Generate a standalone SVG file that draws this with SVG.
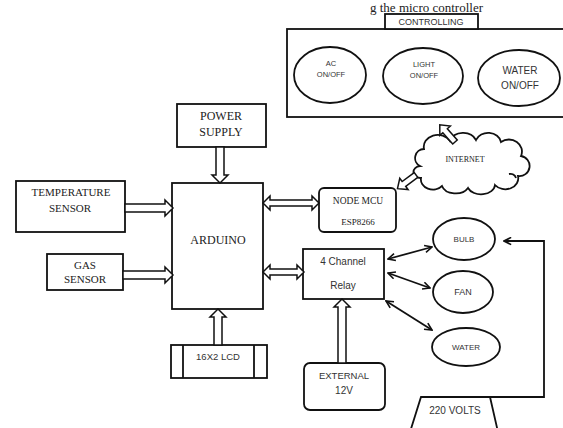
<svg xmlns="http://www.w3.org/2000/svg" width="563" height="428" viewBox="0 0 563 428">
<defs>
<style>
.b{fill:#fff;stroke:#111;stroke-width:1.8}
.ha{fill:#fff;stroke:#111;stroke-width:1.5;stroke-linejoin:miter}
.ln{fill:none;stroke:#111;stroke-width:1.8}
.se{font-family:"Liberation Serif","Times New Roman",serif;fill:#222;text-anchor:middle}
.sa{font-family:"Liberation Sans",Arial,sans-serif;fill:#333;text-anchor:middle}
</style>
<marker id="ah" viewBox="0 0 10 10" refX="9" refY="5" markerWidth="9" markerHeight="9" markerUnits="userSpaceOnUse" orient="auto-start-reverse">
<path d="M1,1 L9,5 L1,9" fill="none" stroke="#111" stroke-width="1.8"/>
</marker>
</defs>
<rect width="563" height="428" fill="#fff"/>
<text x="370" y="12" font-family="Liberation Serif,serif" font-size="13" fill="#222">g the micro controller</text>

<g id="controlling">
<rect class="b" x="287" y="29" width="280" height="88"/>
<rect class="b" x="385" y="14" width="93" height="15"/>
<text class="sa" x="431" y="25" font-size="9">CONTROLLING</text>
</g>
<g id="ac">
<ellipse class="b" cx="330" cy="75" rx="36" ry="28"/>
<text class="sa" x="331" y="66" font-size="7.5">AC</text>
<text class="sa" x="331" y="77" font-size="7.5">ON/OFF</text>
</g>
<g id="light">
<ellipse class="b" cx="423" cy="76" rx="40" ry="28"/>
<text class="sa" x="424" y="67" font-size="7.5">LIGHT</text>
<text class="sa" x="424" y="78" font-size="7.5">ON/OFF</text>
</g>
<g id="water-ctl">
<ellipse class="b" cx="519" cy="78" rx="41" ry="28"/>
<text class="sa" x="520" y="74" font-size="10">WATER</text>
<text class="sa" x="520" y="89" font-size="10">ON/OFF</text>
</g>

<g id="internet">
<path class="b" d="M420,166 A9,9 0 0 1 424,149 A14,12 0 0 1 450,141 A14,12 0 0 1 476,140 A13,11 0 0 1 501,142 A13,12 0 0 1 521,156 A10,10 0 0 1 518,176 A13,11 0 0 1 495,185 A14,10 0 0 1 468,188 A14,10 0 0 1 442,186 A12,10 0 0 1 421,178 A7,6 0 0 1 420,166 Z"/>
<path class="ln" d="M509,174 A6,6 0 0 1 516,178" stroke-width="1.4"/>
<text class="se" x="465" y="162" font-size="8">INTERNET</text>
</g>

<g id="nodemcu">
<rect class="b" x="319" y="188" width="77" height="44" rx="5"/>
<text class="se" x="358" y="204" font-size="9.5">NODE MCU</text>
<text class="se" x="358" y="225" font-size="9">ESP8266</text>
</g>

<g id="power">
<rect class="b" x="177" y="104" width="89" height="43"/>
<text class="se" x="221" y="120" font-size="12">POWER</text>
<text class="se" x="221" y="136" font-size="12">SUPPLY</text>
</g>

<g id="temp">
<rect class="b" x="16" y="181" width="109" height="51"/>
<text class="se" x="71" y="196" font-size="11">TEMPERATURE</text>
<text class="se" x="70" y="212" font-size="11">SENSOR</text>
</g>

<g id="gas">
<rect class="b" x="47" y="254" width="76" height="36"/>
<text class="se" x="85" y="269" font-size="11">GAS</text>
<text class="se" x="85" y="283" font-size="11">SENSOR</text>
</g>

<g id="arduino">
<rect class="b" x="172" y="183" width="91" height="126"/>
<text class="se" x="218" y="244" font-size="12">ARDUINO</text>
</g>

<g id="lcd">
<rect class="b" x="171" y="345" width="96" height="33"/>
<line class="ln" x1="183" y1="345" x2="183" y2="378"/>
<line class="ln" x1="254" y1="345" x2="254" y2="378"/>
<text class="sa" x="218" y="360" font-size="9.5">16X2 LCD</text>
</g>

<g id="relay">
<rect class="b" x="303" y="249" width="81" height="50"/>
<text class="sa" x="343" y="265" font-size="10">4 Channel</text>
<text class="sa" x="343" y="289" font-size="10">Relay</text>
</g>

<g id="external">
<rect class="b" x="304" y="363" width="81" height="47" rx="6"/>
<text class="sa" x="344" y="379" font-size="9.5">EXTERNAL</text>
<text class="sa" x="344" y="394" font-size="10">12V</text>
</g>

<g id="bulb">
<ellipse class="b" cx="464" cy="239" rx="31" ry="21"/>
<text class="sa" x="464" y="242" font-size="8">BULB</text>
</g>
<g id="fan">
<ellipse class="b" cx="463" cy="292" rx="30" ry="21"/>
<text class="sa" x="463" y="295" font-size="9">FAN</text>
</g>
<g id="water">
<ellipse class="b" cx="466" cy="347" rx="34" ry="19"/>
<text class="sa" x="466" y="350" font-size="8">WATER</text>
</g>

<g id="volts">
<path class="b" d="M421,397 L490,397 L498,432 L410,432 Z"/>
<text class="sa" x="455" y="414" font-size="10">220 VOLTS</text>
</g>

<g id="connectors">
<polygon class="ha" points="125,204 165,204 165,200 173,208 165,216 165,212 125,212"/>
<polygon class="ha" points="123,271 165,271 165,267 173,275 165,283 165,279 123,279"/>
<polygon class="ha" points="216,147 224,147 224,175 228,175 220,183 212,175 216,175"/>
<polygon class="ha" points="214,345 222,345 222,317 226,317 218,309 210,317 214,317"/>
<polygon class="ha" points="338,363 346,363 346,307 350,307 342,299 334,307 338,307"/>
<polygon class="ha" points="263,203 270,196 270,200 312,200 312,196 319,203 312,210 312,206 270,206 270,210"/>
<polygon class="ha" points="263,272 270,265 270,269 297,269 297,265 304,272 297,279 297,275 270,275 270,279"/>
<polygon class="ha" transform="translate(455,142) rotate(-131.4)" points="0,-3 15,-3 15,-7 23,0 15,7 15,3 0,3"/>
<polygon class="ha" transform="translate(416,175) rotate(143.6)" points="0,-3 15,-3 15,-7 23,0 15,7 15,3 0,3"/>
<line class="ln" x1="388" y1="259" x2="432" y2="247" marker-start="url(#ah)" marker-end="url(#ah)"/>
<line class="ln" x1="388" y1="273" x2="430" y2="288" marker-start="url(#ah)" marker-end="url(#ah)"/>
<line class="ln" x1="386" y1="301" x2="432" y2="330" marker-start="url(#ah)" marker-end="url(#ah)"/>
<polyline class="ln" points="490,397 544,397 544,241 504,241" marker-end="url(#ah)"/>
</g>
</svg>
